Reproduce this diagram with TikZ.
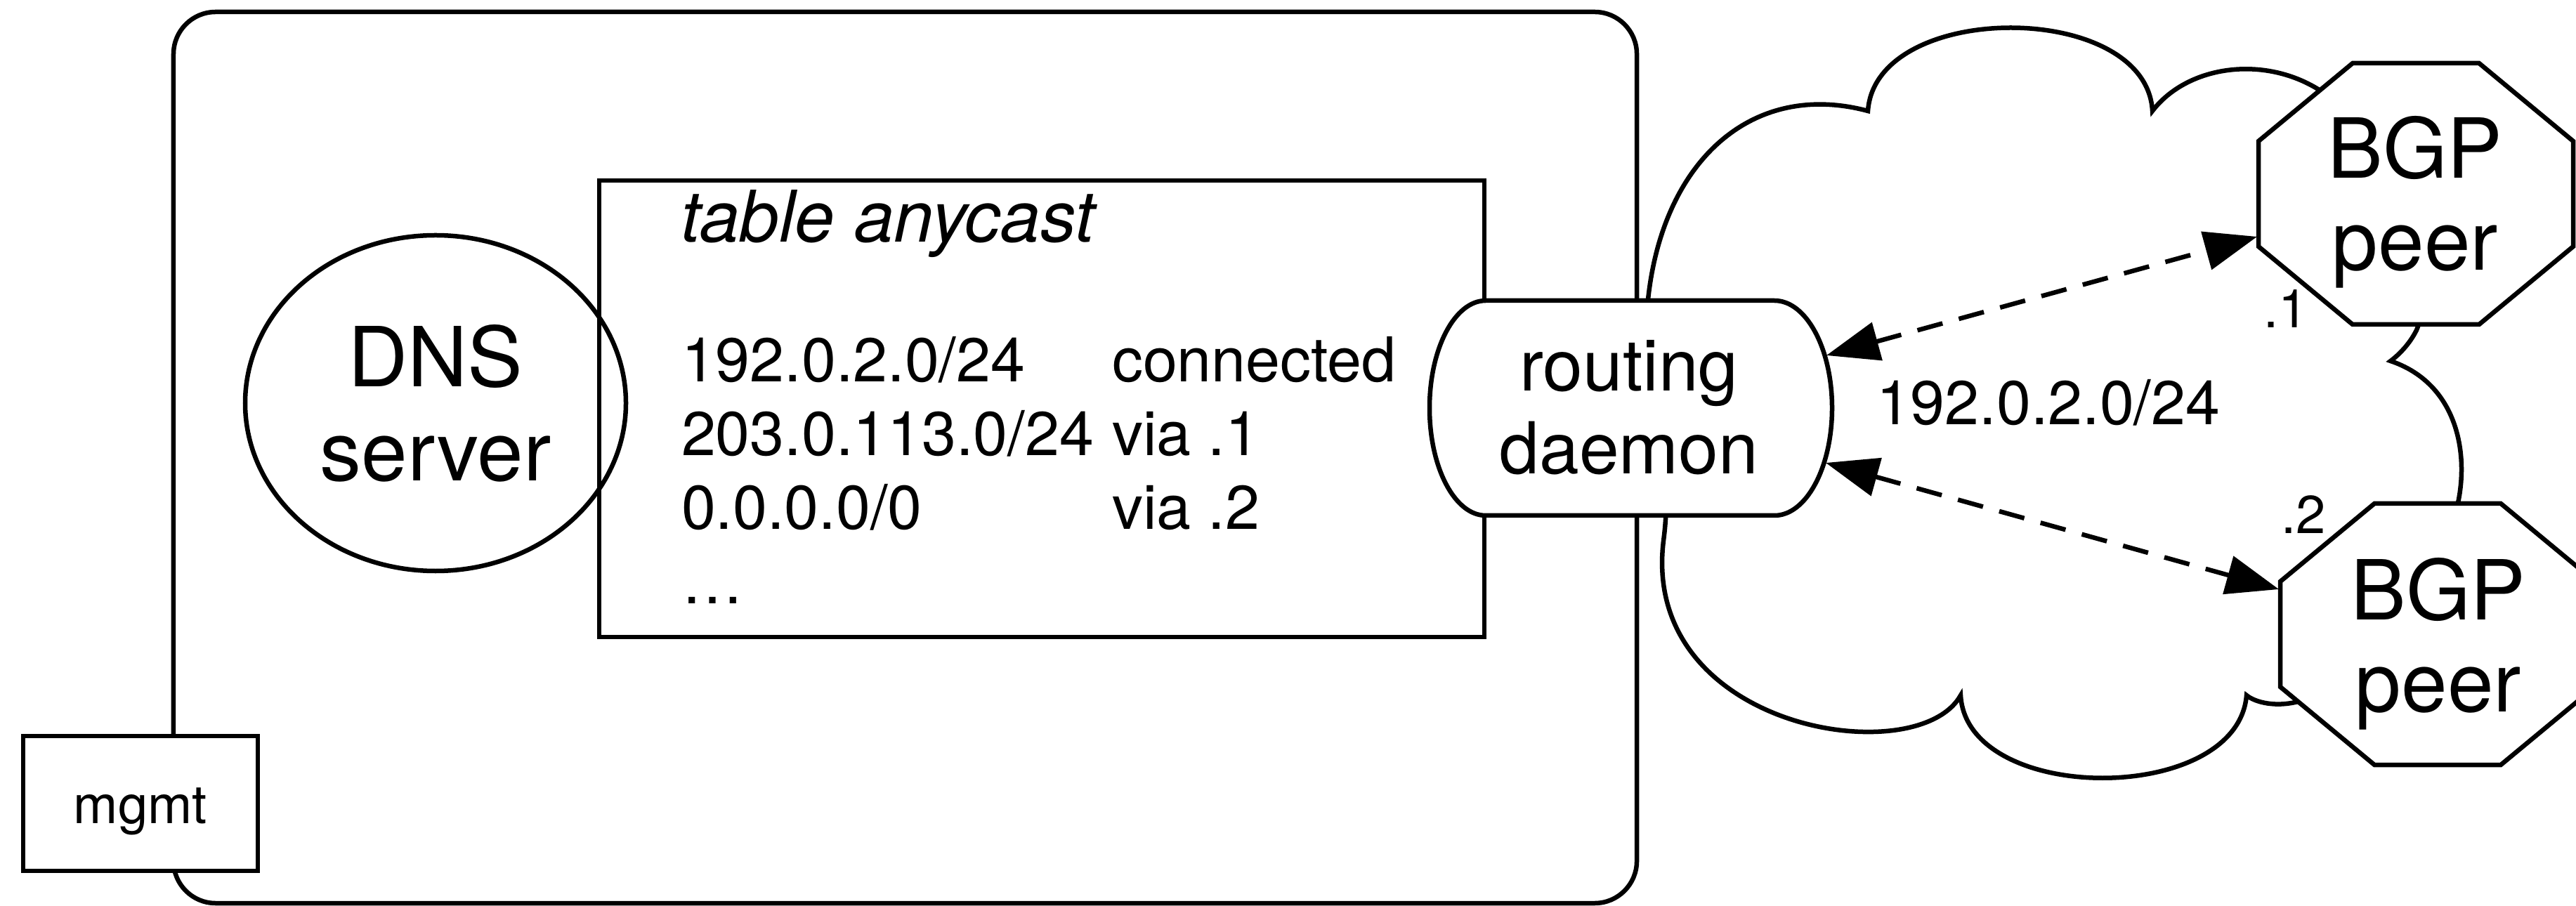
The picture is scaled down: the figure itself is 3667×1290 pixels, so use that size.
\documentclass[tikz,border=0pt]{standalone}
\usepackage{fontspec}
\setmainfont{TeX Gyre Heros}
\usetikzlibrary{arrows.meta,shapes.geometric}
\begin{document}
\begin{tikzpicture}[x=0.2pt,y=-0.2pt,
  shapeline/.style={line width=1.3pt, draw=black},
  whitefill/.style={shapeline, fill=white},
  hostbox/.style={shapeline, rectangle, rounded corners=12pt, minimum width=416.6pt, minimum height=253.8pt, inner sep=0pt},
  tablebox/.style={shapeline, rectangle, minimum width=252pt, minimum height=130pt, inner sep=0pt},
  dnsnode/.style={shapeline, ellipse, minimum width=108.4pt, minimum height=95.6pt, inner sep=0pt, align=center, font=\fontsize{23.6}{26.8}\selectfont},
  mgmtbox/.style={whitefill, rectangle, minimum width=66.8pt, minimum height=38.4pt, inner sep=0pt, text height=11.2pt, text depth=0pt, font=\fontsize{15.2}{18}\selectfont},
  rdtext/.style={align=center, inner sep=0pt, font=\fontsize{20.4}{23.6}\selectfont},
  bgptext/.style={align=center, inner sep=0pt, font=\fontsize{23.6}{26.2}\selectfont},
  titletext/.style={anchor=base west, inner sep=0pt, font=\itshape\fontsize{20.3}{24}\selectfont},
  rowtext/.style={anchor=base west, inner sep=0pt, font=\fontsize{17.6}{21}\selectfont},
  smalltext/.style={anchor=base west, inner sep=0pt, font=\fontsize{15.2}{18}\selectfont},
  peerarrow/.style={line width=1.3pt, dash pattern=on 7.4pt off 4.8pt,
     arrows={Triangle[length=15pt,width=11pt]-Triangle[length=15pt,width=11pt]}}
]
\useasboundingbox (0,0) rectangle (3667,1290);

% host box
\node[hostbox] (host) at (1288.5,651.5) {};

% routing table box
\node[tablebox] (table) at (1483,582) {};

% DNS server
\node[dnsnode] (dns) at (620,574) {DNS\\server};

% cloud
\draw[shapeline] (2343,480)
  .. controls (2345,250) and (2480,110) .. (2659,158)
  .. controls (2670,0) and (3055,0) .. (3064,158)
  .. controls (3120,85) and (3250,75) .. (3330,150)
  .. controls (3420,240) and (3470,400) .. (3440,470)
  .. controls (3430,490) and (3415,505) .. (3403,514)
  .. controls (3495,545) and (3515,640) .. (3499,716)
  .. controls (3495,850) and (3400,990) .. (3275,998)
  .. controls (3240,1008) and (3210,1000) .. (3198,990)
  .. controls (3185,1147) and (2800,1147) .. (2791,990)
  .. controls (2730,1100) and (2335,1040) .. (2368,770)
  .. controls (2385,640) and (2343,560) .. (2343,480) -- cycle;

% routing daemon shape
\coordinate (rdc) at (2321,581);
\draw[whitefill] (2115,428) -- (2526,428)
  .. controls (2571,428) and (2608,496) .. (2608,581)
  .. controls (2608,666) and (2571,734) .. (2526,734)
  -- (2115,734)
  .. controls (2071,734) and (2035,666) .. (2035,581)
  .. controls (2035,496) and (2071,428) .. (2115,428) -- cycle;
\node[rdtext] (rd) at (2319,580) {routing\\daemon};

% BGP peers
\coordinate (o1) at (3439,276);
\draw[whitefill, shift={(o1)}] (-90,-186) -- (90,-186) -- (224,-75) -- (224,75)
  -- (90,186) -- (-90,186) -- (-224,75) -- (-224,-75) -- cycle;
\node[bgptext] (bgp1) at (3438,288) {BGP\\peer};

\coordinate (o2) at (3470,903);
\draw[whitefill, shift={(o2)}] (-90,-186) -- (90,-186) -- (224,-75) -- (224,75)
  -- (90,186) -- (-90,186) -- (-224,75) -- (-224,-75) -- cycle;
\node[bgptext] (bgp2) at (3471,917) {BGP\\peer};

% mgmt
\node[mgmtbox] (mgmt) at (200,1144) {mgmt};

% table text
\node[titletext] (ttitle) at (968,345) {table anycast};
\node[rowtext] (r1a) at (969,544) {192.0.2.0/24};
\node[rowtext] (r1b) at (1582,544) {connected};
\node[rowtext] (r2a) at (969,649) {203.0.113.0/24};
\node[rowtext] (r2b) at (1582,649) {via .1};
\node[rowtext] (r3a) at (969,754) {0.0.0.0/0};
\node[rowtext] (r3b) at (1582,754) {via .2};
\node[rowtext] (r4a) at (969,859) {…};

% labels
\node[rowtext] (net) at (2670,605) {192.0.2.0/24};
\node[smalltext] (lab1) at (3221,467) {.1};
\node[smalltext] (lab2) at (3246,759) {.2};

% connectors
\coordinate (rdup) at (2600,506);
\coordinate (rddn) at (2599,659);
\coordinate (bgp1w) at (3213,337);
\coordinate (bgp2w) at (3244,839);
\draw[peerarrow] (rdup) -- (bgp1w);
\draw[peerarrow] (rddn) -- (bgp2w);
\end{tikzpicture}
\end{document}
